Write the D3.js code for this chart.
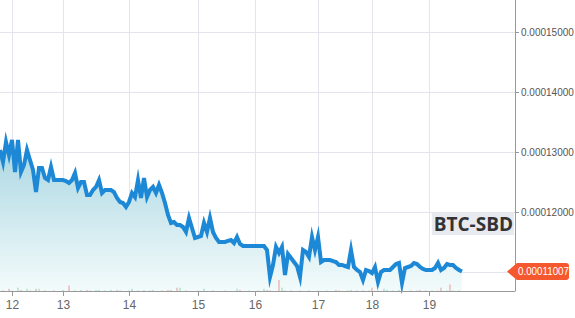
<!DOCTYPE html>
<html>
<head>
<meta charset="utf-8">
<script src="https://cdn.jsdelivr.net/npm/d3@7"></script>
<style>
  html, body { margin: 0; padding: 0; background: #fff; }
  svg { display: block; font-family: "Liberation Sans", Arial, sans-serif; }
</style>
</head>
<body>
<div id="chart"></div>
<script>
// prices in units of 1e-8 BTC, one per candle
const prices = [
  13033, 12833, 13167, 12950, 13200, 12667, 13200, 12667, 12783, 13033,
  12867, 12700, 12333, 12733, 12733, 12567, 12533, 12750, 12533, 12533,
  12533, 12533, 12517, 12483, 12533, 12650, 12400, 12500, 12500, 12283,
  12283, 12367, 12417, 12533, 12317, 12367, 12367, 12367, 12333, 12233,
  12167, 12150, 12083, 12167, 12317, 12250, 12533, 12233, 12567, 12250,
  12367, 12417, 12317, 12450, 12317, 12150, 11950, 11817, 11833, 11783,
  11783, 11750, 11667, 11900, 11733, 11567, 11583, 11600, 11817, 11667,
  11900, 11667, 11567, 11500, 11500, 11500, 11517, 11533, 11483, 11583,
  11467, 11433, 11433, 11433, 11433, 11433, 11433, 11433, 11433, 11367,
  10917, 11117, 11417, 11317, 11417, 10950, 11300, 11233, 11167, 11100,
  10917, 11367, 11333, 11250, 11583, 11367, 11583, 11167, 11200, 11200,
  11200, 11183, 11167, 11117, 11117, 11100, 11083, 11367, 11083, 11033,
  11000, 10867, 11033, 11017, 10983, 11083, 10833, 11000, 11033, 11033,
  11033, 11083, 11133, 11150, 10817, 11067, 11083, 11100, 11150, 11133,
  11083, 11050, 11033, 11033, 11033, 11067, 11150, 11033, 11067, 11133,
  11117, 11117, 11067, 11033, 11007
];

// volume per candle (arbitrary units)
const volumes = [
  0, 0.5, 0, 2, 0.5, 0, 3, 1, 0, 2,
  0.5, 0, 2, 2, 0, 0.5, 0, 0, 0.5, 0,
  0, 1, 0, 5, 0, 0.5, 0, 1, 0, 1,
  0.5, 0, 1, 1, 0, 0.5, 0, 1, 0, 1,
  0.5, 0, 0, 0.5, 2, 0, 0.5, 0, 1, 0,
  0.5, 1, 0, 0, 0.5, 0, 1, 1, 0, 3,
  3, 0, 0.5, 0, 0, 0, 0.5, 0, 2, 0,
  0, 0.5, 0, 0, 0, 0.5, 0, 0, 0, 2,
  1, 0, 0, 0.5, 0, 0, 0.5, 0, 2, 1,
  0.5, 0, 0, 10, 3, 0.5, 0, 0.5, 0, 0,
  0.5, 0, 0, 0.5, 0, 0, 0.5, 0, 0, 0.5,
  0, 0, 1, 0.5, 0, 0, 0.5, 1, 0, 0.5,
  0, 0.5, 0, 0.5, 3, 0, 0.5, 0, 2, 1,
  0, 0.5, 0, 1, 0.5, 0, 0, 0.5, 0, 0.5,
  1, 0, 0.5, 0, 0.5, 0, 0.5, 3, 0, 0.5,
  6, 0.5, 0, 0.5, 0
];

const dayLabels = ['12', '13', '14', '15', '16', '17', '18', '19'];
const dayStart = [4, 21, 43, 66, 85, 106, 124, 143];   // candle index where each day begins
const priceTicks = [11000, 12000, 13000, 14000, 15000];
const pairName = 'BTC-SBD';

const W = 575, H = 318;
const plotRight = 515, plotBottom = 291;

const svg = d3.select('#chart').append('svg')
  .attr('width', W).attr('height', H);

const x = d3.scaleLinear().domain([0, 171.67]).range([0, plotRight]);
const y = d3.scaleLinear().domain([11000, 15000]).range([272, 32]);
const vy = d3.scaleLinear().domain([0, 10]).range([0, 11]);
const fmt = v => (v * 1e-8).toFixed(8);

const defs = svg.append('defs');
const grad = defs.append('linearGradient')
  .attr('id', 'areaGrad').attr('gradientUnits', 'userSpaceOnUse')
  .attr('x1', 0).attr('y1', y(13200)).attr('x2', 0).attr('y2', plotBottom);
grad.append('stop').attr('offset', 0).attr('stop-color', '#a9d6e2');
grad.append('stop').attr('offset', 1).attr('stop-color', '#f3fbfb');

// grid
svg.append('g').selectAll('line').data(priceTicks).join('line')
  .attr('x1', 0).attr('x2', plotRight)
  .attr('y1', d => y(d) + 0.5).attr('y2', d => y(d) + 0.5)
  .attr('stroke', '#e4e4ec').attr('stroke-width', 1);
svg.append('g').selectAll('line').data(dayStart).join('line')
  .attr('x1', d => Math.round(x(d)) + 0.5).attr('x2', d => Math.round(x(d)) + 0.5)
  .attr('y1', 0).attr('y2', plotBottom)
  .attr('stroke', '#e4e4ec').attr('stroke-width', 1);

// area + line
const area = d3.area()
  .x((d, i) => x(i))
  .y0(plotBottom)
  .y1(d => y(d));
svg.append('path').datum(prices)
  .attr('d', area)
  .attr('fill', 'url(#areaGrad)');

// volume bars
svg.append('g').selectAll('rect').data(volumes).join('rect')
  .attr('x', (d, i) => x(i) - 0.5)
  .attr('width', 1)
  .attr('y', d => plotBottom - vy(d))
  .attr('height', d => vy(d))
  .attr('fill', (d, i) => (i > 0 && prices[i] < prices[i - 1]) ? '#e89a9a' : '#8fd3b0');

const line = d3.line()
  .x((d, i) => x(i))
  .y(d => y(d));
svg.append('path').datum(prices)
  .attr('d', line)
  .attr('fill', 'none')
  .attr('stroke', '#1c88d6')
  .attr('stroke-width', 4)
  .attr('stroke-linejoin', 'miter')
  .attr('stroke-miterlimit', 6);

// bottom axis
const xAxis = d3.axisBottom(x)
  .tickValues(dayStart)
  .tickFormat((d, i) => dayLabels[i])
  .tickSize(5)
  .tickSizeOuter(0);
const gx = svg.append('g')
  .attr('transform', `translate(0,${plotBottom})`)
  .call(xAxis);
gx.select('.domain').attr('stroke', '#999').attr('d', `M0,0.5H${plotRight}`);
gx.selectAll('.tick line').attr('stroke', '#999');
gx.selectAll('.tick text')
  .attr('fill', '#666').attr('font-size', 12).attr('dy', '0.85em')
  .attr('font-family', '"Liberation Sans", Arial, sans-serif');

// right axis
const yAxis = d3.axisRight(y)
  .tickValues(priceTicks.slice(1))
  .tickFormat(fmt)
  .tickSize(4)
  .tickSizeOuter(0);
const gy = svg.append('g')
  .attr('transform', `translate(${plotRight},0)`)
  .call(yAxis);
gy.select('.domain').attr('stroke', '#999').attr('d', `M0.5,0V${plotBottom + 0.5}`);
gy.selectAll('.tick line').attr('stroke', '#999');
gy.selectAll('.tick text')
  .attr('fill', '#555').attr('font-size', 10).attr('x', 6)
  .attr('font-family', '"Liberation Sans", Arial, sans-serif');

// pair watermark
const wm = svg.append('g');
const wmText = wm.append('text')
  .attr('x', plotRight - 2).attr('y', 231)
  .attr('text-anchor', 'end')
  .attr('font-family', '"Open Sans", "DejaVu Sans", sans-serif')
  .attr('font-weight', 'bold').attr('font-size', 19)
  .attr('fill', '#333')
  .text(pairName);
const bb = wmText.node().getBBox();
wm.insert('rect', 'text')
  .attr('x', bb.x - 2).attr('y', 213)
  .attr('width', plotRight - bb.x + 1).attr('height', 22)
  .attr('fill', '#e9e9f0');

// last price label
const last = prices[prices.length - 1];
const ly = y(last);
const lx = plotRight - 8;
svg.append('path')
  .attr('d', `M${lx},${ly} L${lx + 10},${ly - 8.5} H${W - 9} q3,0 3,3 V${ly + 5.5} q0,3 -3,3 H${lx + 10} Z`)
  .attr('fill', '#f5572e');
svg.append('text')
  .attr('x', lx + 11).attr('y', ly + 3.5)
  .attr('fill', '#fff').attr('font-size', 10)
  .attr('textLength', 51).attr('lengthAdjust', 'spacingAndGlyphs')
  .text(fmt(last));
</script>
</body>
</html>
